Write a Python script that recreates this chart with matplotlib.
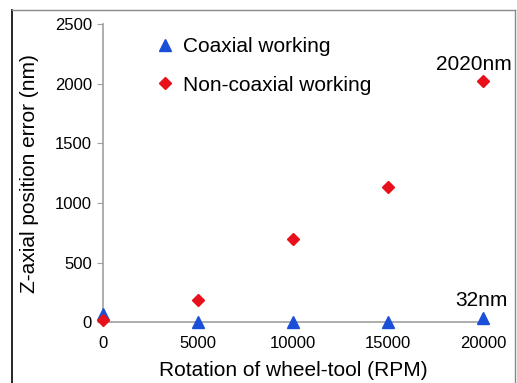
import matplotlib.pyplot as plt
from matplotlib.lines import Line2D

plt.rcParams['font.family'] = ['Liberation Sans', 'DejaVu Sans']

# Data
rpm = [0, 5000, 10000, 15000, 20000]
coaxial = [70, 0, 0, 0, 32]
non_coaxial = [20, 185, 700, 1135, 2020]

blue = '#1a4fd8'
red = '#e8101a'
gray = '#a0a0a0'

fig = plt.figure(figsize=(5.17, 3.83), dpi=100)
ax = fig.add_axes([0.199, 0.159, 0.735, 0.778])

ax.plot(rpm, coaxial, linestyle='none', marker='^', markersize=9,
        color=blue, label='Coaxial working', clip_on=False, zorder=3)
ax.plot(rpm, non_coaxial, linestyle='none', marker='D', markersize=6.3,
        color=red, label='Non-coaxial working', clip_on=False, zorder=4)

ax.set_xlim(0, 20000)
ax.set_ylim(0, 2500)
ax.set_xticks(rpm)
ax.set_yticks([0, 500, 1000, 1500, 2000, 2500])
ax.tick_params(axis='x', length=0, labelsize=12, pad=10)
ax.tick_params(axis='y', length=4, color=gray, labelsize=12, pad=4)

for s in ['top', 'right']:
    ax.spines[s].set_visible(False)
for s in ['left', 'bottom']:
    ax.spines[s].set_color(gray)
    ax.spines[s].set_linewidth(1.2)

ax.set_xlabel('Rotation of wheel-tool (RPM)', fontsize=15, labelpad=7)
ax.set_ylabel('Z-axial position error (nm)', fontsize=15, labelpad=11)

ax.legend(loc='upper left', bbox_to_anchor=(0.08, 1.02), frameon=False,
          fontsize=15, handletextpad=0.3, labelspacing=0.95, handlelength=1.2)

ax.annotate('2020nm', xy=(20000, 2020), xytext=(21, 8), textcoords='offset points',
            ha='right', va='baseline', fontsize=15)
ax.annotate('32nm', xy=(20000, 32), xytext=(18, 9), textcoords='offset points',
            ha='right', va='baseline', fontsize=15)

# outer frame of the figure
fig.add_artist(Line2D([12/517, 12/517], [0, 1 - 10/383], color='black', lw=1.2))
fig.add_artist(Line2D([12/517, 515/517], [1 - 10/383, 1 - 10/383], color='#888888', lw=1))
fig.add_artist(Line2D([515/517, 515/517], [0, 1 - 10/383], color='#888888', lw=1))

fig.savefig('out.png', dpi=100)
